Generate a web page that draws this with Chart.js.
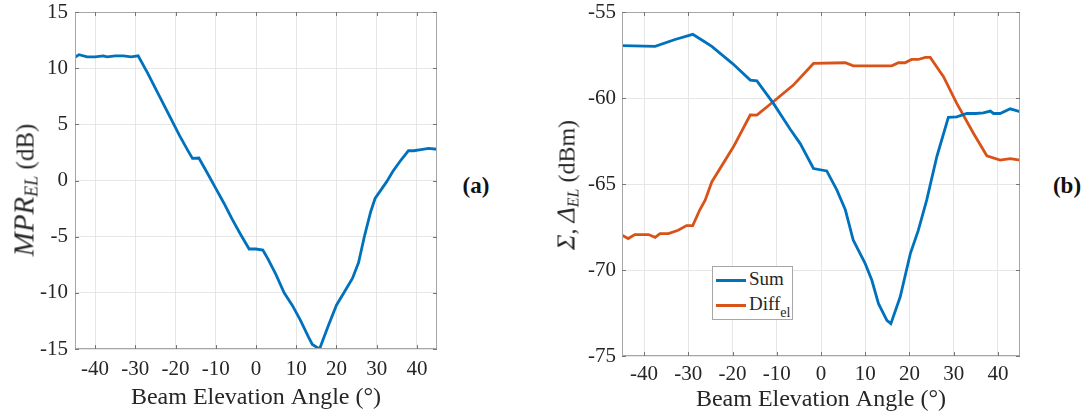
<!DOCTYPE html>
<html lang="en">
<head>
  <meta charset="UTF-8" />
  <title>Beam Elevation Angle</title>
  <script src="https://cdn.jsdelivr.net/npm/chart.js"></script>
  <style>
    body { margin: 0; background: #fff; font-family: "Liberation Serif", "Times New Roman", serif; }
    #wrap { position: relative; width: 1091px; height: 417px; overflow: hidden; }
    canvas { position: absolute; top: 0; }
    .ytitle { position: absolute; white-space: nowrap; font-size: 25px; color: #262626;
              transform: translate(-50%, -50%) rotate(-90deg); }
    .ytitle i { font-size: 29px; }
    .ytitle sub { font-size: 18px; vertical-align: -4px; }
    #ytB { font-size: 24px; }
    #ytB i { font-size: 26px; }
    #ytB sub { font-size: 16px; }
    .tag { position: absolute; font-size: 23px; font-weight: bold; color: #111; transform: translate(-50%, -50%); }
    #legend { position: absolute; left: 712px; top: 266px; width: 79px; height: 52px;
              border: 1px solid #a6a6a6; background: #fff; font-size: 19px; color: #262626; }
    #legend .row { position: absolute; left: 3px; height: 20px; line-height: 20px; }
    #legend .swatch { display: inline-block; width: 30px; height: 3px; vertical-align: middle; margin-right: 3px; }
    #legend sub { font-size: 14px; vertical-align: -7px; }
  </style>
</head>
<body>
<div id="wrap">
  <canvas id="chartA" width="445" height="417" style="left:0px;width:445px;height:417px"></canvas>
  <canvas id="chartB" width="490" height="417" style="left:540px;width:490px;height:417px"></canvas>
  <div class="ytitle" style="left:25px;top:190px"><i>MPR<sub>EL</sub></i> (dB)</div>
  <div class="ytitle" id="ytB" style="left:567px;top:185px"><i>Σ</i>, <i>Δ<sub>EL</sub></i> (dBm)</div>
  <div class="tag" style="left:476px;top:186px">(a)</div>
  <div class="tag" style="left:1067px;top:186px">(b)</div>
  <div id="legend"></div>
</div>

<script>
  // ---- data ----
  const xTicks = [-40, -30, -20, -10, 0, 10, 20, 30, 40];
  const mprTicks = [-15, -10, -5, 0, 5, 10, 15];
  const powTicks = [-75, -70, -65, -60, -55];

  const mprAngles = [-45, -44, -42, -40, -38, -37, -35, -33, -31, -29.3, -27, -25, -23, -21, -19, -17, -15.8, -14.2,
    -12, -10, -8, -6, -4, -1.7, 0, 1.7, 3, 5, 7, 9, 11, 13, 14, 15.8, 18, 20, 22, 24, 25.5, 27, 28.5, 29.6,
    32.5, 34, 36, 37.9, 39.2, 41, 42.9, 45];
  const mprValues = [10.97, 11.2, 11.0, 11.0, 11.1, 11.0, 11.1, 11.1, 11.0, 11.1, 9.6, 8.2, 6.8, 5.4, 4.0, 2.7, 1.97, 2.0,
    0.6, -0.7, -2.0, -3.4, -4.7, -6.1, -6.1, -6.2, -7.0, -8.4, -10.0, -11.1, -12.4, -13.9, -14.6, -15.0, -12.9, -11.1, -9.9, -8.7, -7.3, -4.9, -2.8, -1.6,
    -0.1, 0.8, 1.8, 2.65, 2.65, 2.75, 2.86, 2.78];

  const sumAngles = [-45, -37.5, -33, -29, -26.5, -24.7, -20, -16, -14.5, -10.8, -7, -4.7, -1.7, 1.3, 3.6, 5.5, 7.3,
    10, 11.5, 13, 14.9, 15.8, 17.9, 20.2, 22, 23.9, 26.2, 28.8, 30.7, 33, 35, 36.7, 38.3, 39, 40.5, 42.8, 45];
  const sumValues = [-56.96, -57.0, -56.6, -56.3, -56.7, -57.0, -58.0, -58.96, -59.0, -60.3, -61.8, -62.65, -64.1, -64.24, -65.36, -66.5, -68.27,
    -69.63, -70.6, -71.96, -72.93, -73.12, -71.57, -69.05, -67.7, -65.94, -63.4, -61.13, -61.1, -60.9, -60.9, -60.86, -60.76, -60.9, -60.9, -60.63, -60.8];

  const diffAngles = [-45, -43.6, -42.1, -39, -37.5, -36.4, -34.5, -32.3, -30.4, -29, -27.4, -26.2, -24.7, -19.8, -16, -14.5,
    -10.8, -6.25, -1.7, 5.5, 7.3, 16, 17.5, 19, 20.5, 22, 23.6, 24.7, 27.7, 30.7, 34.5, 37.5, 40.5, 42.8, 45];
  const diffValues = [-67.98, -68.17, -67.94, -67.94, -68.1, -67.88, -67.88, -67.69, -67.42, -67.42, -66.5, -65.94, -64.88, -62.84, -60.99, -61.0,
    -60.22, -59.25, -57.99, -57.95, -58.13, -58.13, -57.95, -57.95, -57.76, -57.76, -57.64, -57.64, -58.76, -60.31, -62.06, -63.36, -63.61, -63.52, -63.61];

  const seriesNames = ['Sum', 'Diff'];
  const seriesSubs = ['', 'el'];
  const blue = '#0072BD';
  const orange = '#D95319';
  const serif = "'Liberation Serif', 'Times New Roman', serif";

  const toPoints = (xs, ys) => xs.map((x, i) => ({ x: x, y: ys[i] }));

  // matlab-like box with inward tick marks
  const boxPlugin = {
    id: 'box',
    afterDraw(chart) {
      const { ctx, chartArea: a, scales: { x, y } } = chart;
      ctx.save();
      ctx.strokeStyle = '#a6a6a6';
      ctx.lineWidth = 1;
      ctx.strokeRect(a.left + 0.5, a.top + 0.5, a.right - a.left - 1, a.bottom - a.top - 1);
      ctx.strokeStyle = '#777';
      const t = 4;
      ctx.beginPath();
      x.ticks.forEach(tk => {
        const px = Math.round(x.getPixelForValue(tk.value)) + 0.5;
        ctx.moveTo(px, a.bottom); ctx.lineTo(px, a.bottom - t);
        ctx.moveTo(px, a.top); ctx.lineTo(px, a.top + t);
      });
      y.ticks.forEach(tk => {
        const py = Math.round(y.getPixelForValue(tk.value)) + 0.5;
        ctx.moveTo(a.left, py); ctx.lineTo(a.left + t, py);
        ctx.moveTo(a.right, py); ctx.lineTo(a.right - t, py);
      });
      ctx.stroke();
      ctx.restore();
    }
  };

  function makeChart(id, datasets, yTicks, yMin, yMax, opt) {
    return new Chart(document.getElementById(id), {
      type: 'line',
      data: { datasets: datasets },
      plugins: [boxPlugin],
      options: {
        responsive: false,
        animation: false,
        layout: { padding: { top: opt.padTop, right: opt.padRight, left: 0, bottom: 0 } },
        plugins: { legend: { display: false }, tooltip: { enabled: false } },
        elements: { point: { radius: 0 }, line: { borderWidth: 2.8, tension: 0 } },
        scales: {
          x: {
            type: 'linear', min: -45, max: 45,
            afterBuildTicks: s => { s.ticks = xTicks.map(v => ({ value: v })); },
            afterFit: s => { s.height = opt.xHeight; s.paddingLeft = 0; s.paddingRight = 0; },
            grid: { color: '#e6e6e6', drawTicks: false },
            border: { display: false },
            ticks: { color: '#262626', padding: opt.xPad, font: { family: serif, size: 21 } },
            title: { display: true, text: 'Beam Elevation Angle (°)', color: '#262626',
                     padding: { top: 0, bottom: opt.titlePad }, font: { family: serif, size: 24 } }
          },
          y: {
            type: 'linear', min: yMin, max: yMax,
            afterBuildTicks: s => { s.ticks = yTicks.map(v => ({ value: v })); },
            afterFit: s => { s.width = opt.yWidth; s.paddingTop = 0; s.paddingBottom = 0; },
            grid: { color: '#e6e6e6', drawTicks: false },
            border: { display: false },
            ticks: { color: '#262626', padding: opt.yPad, font: { family: serif, size: 21 } }
          }
        }
      }
    });
  }

  makeChart('chartA', [
    { label: 'MPR_EL', data: toPoints(mprAngles, mprValues), borderColor: blue }
  ], mprTicks, -15, 15, { padTop: 12, padRight: 8, xHeight: 68, xPad: 8, titlePad: 5, yWidth: 75, yPad: 7 });

  makeChart('chartB', [
    { label: seriesNames[0], data: toPoints(sumAngles, sumValues), borderColor: blue },
    { label: seriesNames[1], data: toPoints(diffAngles, diffValues), borderColor: orange }
  ], powTicks, -75, -55, { padTop: 12, padRight: 10, xHeight: 61, xPad: 6, titlePad: 3, yWidth: 82, yPad: 6 });

  // legend for chart (b)
  const legend = document.getElementById('legend');
  [blue, orange].forEach((c, i) => {
    const row = document.createElement('div');
    row.className = 'row';
    row.style.top = (2 + i * 25) + 'px';
    row.innerHTML = '<span class="swatch" style="background:' + c + '"></span>' + seriesNames[i] +
      (seriesSubs[i] ? '<sub>' + seriesSubs[i] + '</sub>' : '');
    legend.appendChild(row);
  });
</script>
</body>
</html>
